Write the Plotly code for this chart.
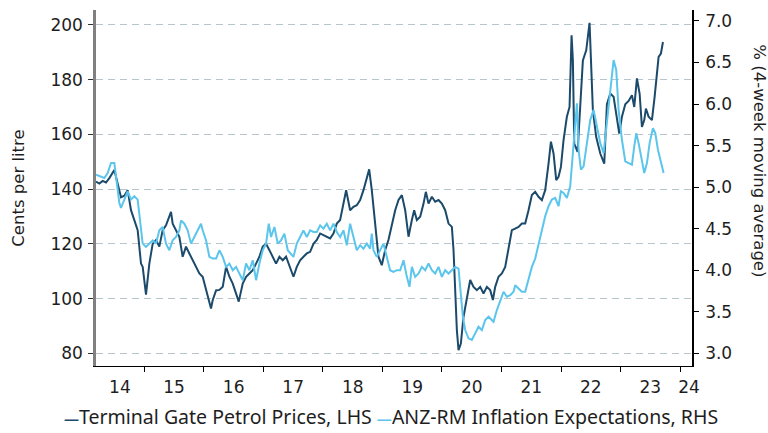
import plotly.graph_objects as go

# Terminal Gate Petrol Prices (cents per litre, LHS) - decimal year / value
petrol_t = [2014.188, 2014.244, 2014.300, 2014.356, 2014.412, 2014.468, 2014.496, 2014.552, 2014.608, 2014.664,
            2014.720, 2014.776, 2014.832, 2014.888, 2014.944, 2014.972, 2015.028, 2015.084, 2015.140, 2015.196,
            2015.252, 2015.308, 2015.364, 2015.448, 2015.476, 2015.532, 2015.588, 2015.644, 2015.700, 2015.756,
            2015.812, 2015.868, 2015.924, 2015.980, 2016.036, 2016.120, 2016.149, 2016.205, 2016.261, 2016.317,
            2016.373, 2016.429, 2016.485, 2016.541, 2016.586, 2016.653, 2016.709, 2016.765, 2016.821, 2016.877,
            2016.933, 2016.989, 2017.045, 2017.101, 2017.157, 2017.213, 2017.269, 2017.325, 2017.381, 2017.449,
            2017.505, 2017.561, 2017.617, 2017.673, 2017.729, 2017.785, 2017.841, 2017.897, 2017.953, 2018.009,
            2018.065, 2018.121, 2018.177, 2018.233, 2018.289, 2018.345, 2018.390, 2018.457, 2018.513, 2018.569,
            2018.625, 2018.681, 2018.737, 2018.777, 2018.821, 2018.877, 2018.933, 2018.989, 2019.045, 2019.101,
            2019.158, 2019.214, 2019.270, 2019.326, 2019.382, 2019.438, 2019.494, 2019.533, 2019.578, 2019.634,
            2019.690, 2019.729, 2019.774, 2019.830, 2019.886, 2019.942, 2019.998, 2020.054, 2020.110, 2020.166,
            2020.194, 2020.222, 2020.250, 2020.278, 2020.317, 2020.362, 2020.418, 2020.474, 2020.530, 2020.586,
            2020.642, 2020.698, 2020.754, 2020.810, 2020.855, 2020.894, 2020.950, 2021.006, 2021.062, 2021.118,
            2021.174, 2021.230, 2021.286, 2021.342, 2021.398, 2021.454, 2021.510, 2021.566, 2021.622, 2021.678,
            2021.734, 2021.790, 2021.830, 2021.874, 2021.919, 2021.958, 2021.998, 2022.042, 2022.098, 2022.143,
            2022.177, 2022.199, 2022.222, 2022.278, 2022.367, 2022.423, 2022.479, 2022.535, 2022.591, 2022.659,
            2022.726, 2022.771, 2022.827, 2022.883, 2022.939, 2022.978, 2023.023, 2023.079, 2023.135, 2023.191,
            2023.230, 2023.275, 2023.320, 2023.359, 2023.398, 2023.426, 2023.471, 2023.527, 2023.572, 2023.611,
            2023.639, 2023.678, 2023.712]
petrol = [142.7, 142.0, 143.0, 142.4, 144.0, 146.3, 147.0, 142.0, 137.0, 137.6,
          139.6, 132.3, 128.7, 125.0, 112.8, 111.6, 101.5, 112.8, 120.0, 121.4,
          119.0, 125.0, 126.8, 131.7, 127.4, 125.0, 122.6, 115.3, 119.0, 116.5,
          114.0, 111.6, 109.2, 108.0, 103.0, 96.4, 99.5, 103.0, 103.2, 104.3,
          111.6, 108.0, 105.5, 101.9, 98.9, 105.5, 108.0, 109.2, 110.4, 112.8,
          115.3, 119.0, 120.0, 117.7, 115.3, 112.8, 115.3, 114.0, 115.3, 111.6,
          108.0, 111.6, 114.0, 115.3, 116.5, 117.1, 120.0, 121.4, 123.8, 123.2,
          122.6, 122.0, 123.8, 127.4, 128.7, 134.7, 139.6, 132.3, 133.5, 134.1,
          136.0, 139.6, 143.9, 147.2, 139.6, 126.2, 115.3, 112.2, 117.7, 121.4,
          127.4, 132.3, 136.0, 137.8, 132.3, 122.6, 128.7, 132.3, 128.7, 129.9,
          134.7, 139.0, 134.7, 137.2, 135.4, 136.0, 134.7, 132.3, 127.4, 126.2,
          117.7, 100.7, 88.5, 81.2, 83.6, 93.4, 100.7, 106.8, 104.3, 103.1,
          104.3, 101.9, 104.3, 103.1, 99.5, 104.3, 108.0, 109.2, 111.6, 117.7,
          125.0, 125.6, 126.2, 127.4, 127.4, 132.3, 137.8, 139.0, 137.2, 136.0,
          139.6, 149.3, 157.3, 153.0, 143.3, 144.5, 148.1, 157.9, 166.4, 170.0,
          196.2, 187.0, 156.6, 153.6, 187.0, 190.7, 200.7, 168.8, 159.0, 153.0,
          149.3, 171.0, 174.9, 173.7, 166.4, 160.3, 166.4, 171.0, 172.2, 174.3,
          170.0, 180.4, 174.9, 162.7, 165.2, 169.4, 166.4, 165.2, 173.7, 181.0,
          188.3, 189.5, 193.7]

# ANZ-RM Inflation Expectations (% 4-week moving average, RHS)
anzrm_t = [2014.188, 2014.244, 2014.328, 2014.384, 2014.440, 2014.496, 2014.535, 2014.580, 2014.608, 2014.664,
           2014.720, 2014.776, 2014.832, 2014.888, 2014.916, 2014.972, 2015.028, 2015.084, 2015.140, 2015.196,
           2015.252, 2015.308, 2015.364, 2015.420, 2015.476, 2015.532, 2015.588, 2015.616, 2015.672, 2015.728,
           2015.784, 2015.840, 2015.896, 2015.952, 2015.980, 2016.036, 2016.093, 2016.149, 2016.205, 2016.261,
           2016.317, 2016.373, 2016.429, 2016.485, 2016.541, 2016.597, 2016.653, 2016.709, 2016.765, 2016.821,
           2016.877, 2016.933, 2016.989, 2017.045, 2017.090, 2017.129, 2017.185, 2017.241, 2017.297, 2017.353,
           2017.409, 2017.505, 2017.561, 2017.617, 2017.673, 2017.729, 2017.785, 2017.841, 2017.897, 2017.953,
           2018.009, 2018.065, 2018.121, 2018.177, 2018.233, 2018.289, 2018.345, 2018.401, 2018.457, 2018.513,
           2018.569, 2018.625, 2018.681, 2018.737, 2018.793, 2018.821, 2018.849, 2018.905, 2018.961, 2019.017,
           2019.073, 2019.129, 2019.185, 2019.242, 2019.298, 2019.354, 2019.410, 2019.454, 2019.494, 2019.550,
           2019.606, 2019.662, 2019.718, 2019.774, 2019.830, 2019.886, 2019.942, 2019.998, 2020.054, 2020.110,
           2020.166, 2020.222, 2020.278, 2020.317, 2020.351, 2020.390, 2020.446, 2020.502, 2020.558, 2020.614,
           2020.670, 2020.726, 2020.782, 2020.810, 2020.866, 2020.922, 2020.978, 2021.034, 2021.090, 2021.146,
           2021.202, 2021.230, 2021.286, 2021.342, 2021.398, 2021.454, 2021.510, 2021.566, 2021.622, 2021.678,
           2021.734, 2021.790, 2021.846, 2021.902, 2021.958, 2021.998, 2022.042, 2022.098, 2022.154, 2022.199,
           2022.239, 2022.267, 2022.294, 2022.334, 2022.379, 2022.435, 2022.491, 2022.547, 2022.603, 2022.659,
           2022.715, 2022.771, 2022.827, 2022.883, 2022.927, 2022.967, 2023.023, 2023.079, 2023.135, 2023.191,
           2023.230, 2023.264, 2023.303, 2023.359, 2023.398, 2023.443, 2023.488, 2023.544, 2023.583, 2023.628,
           2023.678, 2023.723]
anzrm = [5.15, 5.13, 5.11, 5.17, 5.29, 5.29, 5.05, 4.81, 4.75, 4.85,
         4.95, 4.85, 4.89, 4.85, 4.65, 4.32, 4.28, 4.32, 4.36, 4.32,
         4.48, 4.52, 4.32, 4.24, 4.36, 4.40, 4.48, 4.60, 4.56, 4.48,
         4.32, 4.40, 4.48, 4.56, 4.48, 4.36, 4.16, 4.14, 4.14, 4.24,
         4.16, 4.04, 4.08, 4.00, 4.04, 3.96, 3.88, 4.08, 4.00, 4.12,
         3.88, 4.08, 4.24, 4.32, 4.56, 4.40, 4.52, 4.32, 4.36, 4.44,
         4.24, 4.16, 4.32, 4.40, 4.48, 4.40, 4.48, 4.46, 4.46, 4.54,
         4.50, 4.56, 4.48, 4.56, 4.46, 4.40, 4.48, 4.30, 4.56, 4.40,
         4.24, 4.30, 4.26, 4.32, 4.26, 4.44, 4.24, 4.16, 4.24, 4.32,
         4.16, 4.00, 3.98, 4.00, 4.00, 4.12, 3.92, 3.80, 4.04, 3.92,
         3.96, 4.04, 4.00, 4.08, 4.00, 3.96, 4.04, 3.92, 4.00, 3.96,
         4.00, 4.04, 4.02, 3.68, 3.44, 3.28, 3.18, 3.16, 3.24, 3.32,
         3.28, 3.40, 3.44, 3.42, 3.38, 3.52, 3.64, 3.74, 3.68, 3.70,
         3.74, 3.82, 3.78, 3.74, 3.74, 3.88, 4.04, 4.14, 4.32, 4.48,
         4.65, 4.77, 4.85, 4.87, 4.77, 4.95, 4.93, 4.87, 5.01, 5.41,
         5.81, 6.01, 5.45, 5.21, 5.25, 5.53, 5.81, 5.93, 5.73, 5.53,
         5.41, 5.81, 6.13, 6.53, 6.41, 5.93, 5.57, 5.31, 5.29, 5.27,
         5.49, 5.65, 5.53, 5.29, 5.17, 5.29, 5.53, 5.71, 5.65, 5.45,
         5.29, 5.17]

year_ticks = [2015, 2016, 2017, 2018, 2019, 2020, 2021, 2022, 2023, 2024]
year_label_pos = [2014.59, 2015.5, 2016.5, 2017.5, 2018.5, 2019.5, 2020.5, 2021.5, 2022.5, 2023.5, 2024.15]
year_labels = ['14', '15', '16', '17', '18', '19', '20', '21', '22', '23', '24']
lhs_ticks = [80, 100, 120, 140, 160, 180, 200]

x_range = [2014.188, 2024.20]
lhs_range = [75.4, 205.4]
rhs_range = [2.847, 7.132]

DARK = '#1b4a6b'
LIGHT = '#5cc5ec'
TXT = '#1e1e1e'
TICKFONT = dict(family='DejaVu Sans', size=17, color=TXT)

fig = go.Figure()
fig.add_trace(go.Scatter(x=petrol_t, y=petrol, xaxis='x', yaxis='y', mode='lines',
                         line=dict(color=DARK, width=2), name='Terminal Gate Petrol Prices, LHS',
                         showlegend=False))
fig.add_trace(go.Scatter(x=anzrm_t, y=anzrm, xaxis='x2', yaxis='y2', mode='lines',
                         line=dict(color=LIGHT, width=2), name='ANZ-RM Inflation Expectations, RHS',
                         showlegend=False))

fig.update_layout(
    width=768, height=433,
    margin=dict(l=96, r=76, t=10, b=67),
    paper_bgcolor='white', plot_bgcolor='white',
    showlegend=False,
    xaxis=dict(range=x_range, tickmode='array', tickvals=year_ticks, showticklabels=False,
               ticks='outside', ticklen=5, tickcolor='black', tickwidth=1,
               showline=True, linecolor='black', linewidth=1, showgrid=False, zeroline=False,
               anchor='y'),
    xaxis2=dict(range=x_range, overlaying='x', anchor='y', side='bottom', tickmode='array',
                tickvals=year_label_pos, ticktext=year_labels, ticks='', showline=False,
                showgrid=False, zeroline=False, tickfont=TICKFONT, ticklabelstandoff=9),
    yaxis=dict(range=lhs_range, tickmode='array', tickvals=lhs_ticks,
               ticks='outside', ticklen=5, tickcolor='#333333', tickwidth=1,
               showline=True, linecolor='#808080', linewidth=2.5,
               showgrid=True, gridcolor='#b7c6cd', gridwidth=1, griddash='7px,5px',
               zeroline=False, tickfont=TICKFONT, ticklabelstandoff=2,
               title=dict(text='Cents per litre', font=dict(family='DejaVu Sans', size=16.5, color=TXT),
                          standoff=22)),
    yaxis2=dict(range=rhs_range, overlaying='y', side='right', anchor='x', tick0=3, dtick=0.5,
                tickformat='.1f', ticks='outside', ticklen=5, tickcolor='black', tickwidth=1,
                showline=True, linecolor='black', linewidth=1.5, showgrid=False, zeroline=False,
                tickfont=TICKFONT, ticklabelstandoff=3),
)

# rotated right-hand axis title (reads top-to-bottom)
fig.add_annotation(text='% (4-week moving average)', xref='paper', yref='paper',
                   x=1.114, y=0.575, xanchor='center', yanchor='middle', textangle=90, showarrow=False,
                   font=dict(family='DejaVu Sans', size=16.5, color=TXT))

# legend line
fig.add_annotation(
    text=(f'<span style="color:{DARK};font-size:15px"><b>—</b></span>Terminal Gate Petrol Prices, LHS '
          f'<span style="color:{LIGHT};font-size:15px"><b>—</b></span>ANZ-RM Inflation Expectations, RHS'),
    xref='paper', yref='paper', x=-0.057, y=-0.141, xanchor='left', yanchor='middle',
    showarrow=False, font=dict(family='Noto Sans', size=19.5, color=TXT))

fig.write_html('out.html', config={'displayModeBar': False},
               post_script="document.body.style.margin='0';")
